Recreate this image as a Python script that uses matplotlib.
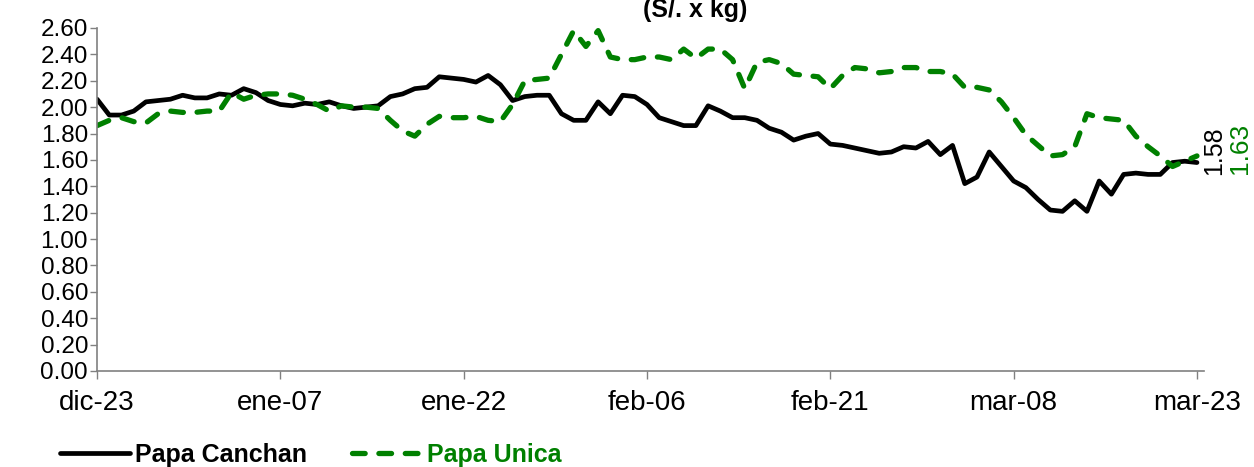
import numpy as np
import pandas as pd
import matplotlib
matplotlib.use('Agg')
import matplotlib.pyplot as plt

plt.rcParams['font.family'] = ['Liberation Sans', 'DejaVu Sans']

# datos diarios dic-23 -> mar-23
fechas = pd.date_range('2022-12-23', '2023-03-23', freq='D')
tick_labels = ['dic-23', 'ene-07', 'ene-22', 'feb-06', 'feb-21', 'mar-08', 'mar-23']

papa_canchan = [2.06, 1.94, 1.94, 1.97, 2.04, 2.05, 2.06, 2.09, 2.07, 2.07,
                2.10, 2.09, 2.14, 2.11, 2.05, 2.02, 2.01, 2.03, 2.02, 2.04,
                2.01, 1.99, 2.00, 2.01, 2.08, 2.10, 2.14, 2.15, 2.23, 2.22,
                2.21, 2.19, 2.24, 2.17, 2.05, 2.08, 2.09, 2.09, 1.95, 1.90,
                1.90, 2.04, 1.95, 2.09, 2.08, 2.02, 1.92, 1.89, 1.86, 1.86,
                2.01, 1.97, 1.92, 1.92, 1.90, 1.84, 1.81, 1.75, 1.78, 1.80,
                1.72, 1.71, 1.69, 1.67, 1.65, 1.66, 1.70, 1.69, 1.74, 1.64,
                1.71, 1.42, 1.47, 1.66, 1.55, 1.44, 1.39, 1.30, 1.22, 1.21,
                1.29, 1.21, 1.44, 1.34, 1.49, 1.50, 1.49, 1.49, 1.58, 1.59,
                1.58]

papa_unica = [1.86, 1.90, 1.92, 1.89, 1.88, 1.95, 1.97, 1.96, 1.96, 1.97,
              1.97, 2.11, 2.06, 2.09, 2.10, 2.10, 2.09, 2.06, 2.02, 1.97,
              2.01, 2.00, 2.00, 1.99, 1.90, 1.82, 1.78, 1.87, 1.93, 1.92,
              1.92, 1.93, 1.90, 1.89, 2.02, 2.20, 2.21, 2.22, 2.40, 2.58,
              2.46, 2.58, 2.38, 2.36, 2.36, 2.38, 2.38, 2.36, 2.44, 2.37,
              2.44, 2.44, 2.36, 2.14, 2.34, 2.36, 2.33, 2.25, 2.24, 2.23,
              2.14, 2.24, 2.30, 2.29, 2.26, 2.27, 2.30, 2.30, 2.27, 2.27,
              2.25, 2.15, 2.15, 2.13, 2.04, 1.92, 1.79, 1.71, 1.63, 1.64,
              1.70, 1.95, 1.92, 1.91, 1.90, 1.78, 1.70, 1.63, 1.55, 1.59,
              1.63]

verde = '#008000'

fig = plt.figure(figsize=(12.54, 4.67), dpi=100)
ax = fig.add_axes([0.0774, 0.2056, 0.8828, 0.7345])

ax.plot(fechas, papa_canchan, color='black', lw=3.4, solid_joinstyle='round',
        solid_capstyle='round', label='Papa Canchan')
ax.plot(fechas, papa_unica, color=verde, lw=3.8, dashes=(2.4, 2.6),
        dash_capstyle='round', dash_joinstyle='round', label='Papa Unica')

ax.set_ylim(0, 2.6)
ax.set_yticks(np.arange(0, 2.61, 0.2))
ax.set_yticklabels(['%.2f' % v for v in np.arange(0, 2.61, 0.2)], fontsize=17.5)
ax.set_xlim(fechas[0], fechas[-1] + pd.Timedelta(hours=14))
ax.set_xticks(fechas[::15])
ax.set_xticklabels(tick_labels, fontsize=20)

for s in ['top', 'right']:
    ax.spines[s].set_visible(False)
for s in ['left', 'bottom']:
    ax.spines[s].set_color('#808080')
    ax.spines[s].set_linewidth(1.2)
ax.tick_params(axis='y', length=5, width=1, color='#808080', pad=1.5)
ax.tick_params(axis='x', length=6, width=1, color='#808080', pad=8)

# etiquetas del ultimo valor
ax.annotate('%.2f' % papa_canchan[-1], (fechas[-1], papa_canchan[-1]),
            xytext=(17, 12), textcoords='offset pixels', rotation=90,
            ha='center', va='center', fontsize=18, color='black')
ax.annotate('%.2f' % papa_unica[-1], (fechas[-1], papa_unica[-1]),
            xytext=(43, 8), textcoords='offset pixels', rotation=90,
            ha='center', va='center', fontsize=19, color=verde)

fig.text(0.554, 1 - 17 / 467, '(S/. x kg)', ha='center', va='baseline',
         fontsize=18, fontweight='bold')

fig.legend(loc='center left', bbox_to_anchor=(0.048, 1 - 455 / 467), ncol=2,
           frameon=False, borderpad=0, borderaxespad=0, handlelength=2.8,
           handletextpad=0.2, columnspacing=1.8, labelcolor='linecolor',
           prop={'weight': 'bold', 'size': 18})

plt.savefig('out.png', dpi=100)
